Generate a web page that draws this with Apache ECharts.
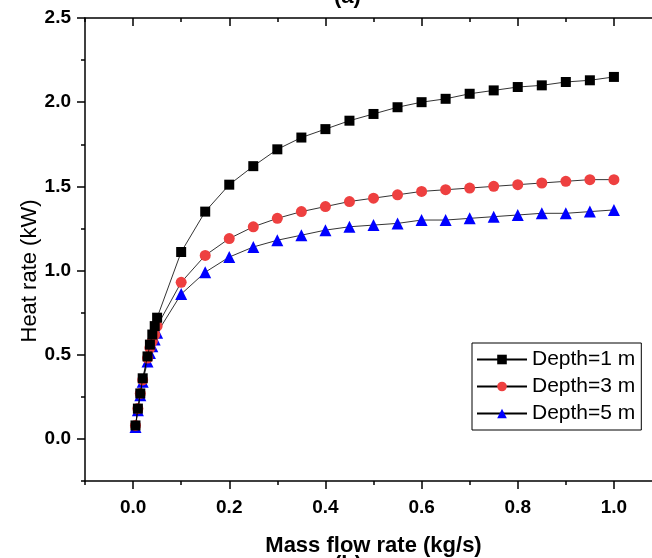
<!DOCTYPE html>
<html>
<head>
<meta charset="utf-8">
<script src="https://cdn.jsdelivr.net/npm/echarts@6/dist/echarts.min.js"></script>
<style>
html,body{margin:0;padding:0;background:#fff;}
#chart{width:652px;height:558px;}
</style>
</head>
<body>
<div id="chart"></div>
<script>
// ---- data ----
var massFlow = [0.005, 0.01, 0.015, 0.02, 0.03, 0.035, 0.04, 0.045, 0.05,
  0.1, 0.15, 0.2, 0.25, 0.3, 0.35, 0.4, 0.45, 0.5, 0.55, 0.6, 0.65, 0.7, 0.75, 0.8, 0.85, 0.9, 0.95, 1.0];
var depth1 = [0.08, 0.18, 0.27, 0.36, 0.49, 0.56, 0.62, 0.67, 0.72,
  1.11, 1.35, 1.51, 1.62, 1.72, 1.79, 1.84, 1.89, 1.93, 1.97, 2.00, 2.02, 2.05, 2.07, 2.09, 2.10, 2.12, 2.13, 2.15];
var depth3 = [0.08, 0.18, 0.27, 0.35, 0.48, 0.54, 0.58, 0.62, 0.67,
  0.93, 1.09, 1.19, 1.26, 1.31, 1.35, 1.38, 1.41, 1.43, 1.45, 1.47, 1.48, 1.49, 1.50, 1.51, 1.52, 1.53, 1.54, 1.54];
var depth5 = [0.07, 0.17, 0.26, 0.34, 0.46, 0.51, 0.55, 0.59, 0.63,
  0.86, 0.99, 1.08, 1.14, 1.18, 1.21, 1.24, 1.26, 1.27, 1.28, 1.30, 1.30, 1.31, 1.32, 1.33, 1.34, 1.34, 1.35, 1.36];
var seriesNames = ['Depth=1 m', 'Depth=3 m', 'Depth=5 m'];
var xTicks = [0.0, 0.2, 0.4, 0.6, 0.8, 1.0];
var yTicks = [0.0, 0.5, 1.0, 1.5, 2.0, 2.5];
var xName = 'Mass flow rate (kg/s)';
var yName = 'Heat rate (kW)';
var topLabel = '(a)';
var bottomLabel = '(b)';

var FONT = 'Liberation Sans, Arial, sans-serif';
var AX = {color: '#000', width: 1.5};

function pairs(ys) { return massFlow.map(function (x, i) { return [x, ys[i]]; }); }

function xAx(pos, major, inside, extra) {
  var a = {
    type: 'value', position: pos, min: -0.1, max: 1.1, gridIndex: 0,
    axisLine: {show: major, onZero: false, lineStyle: AX},
    axisTick: {show: true, inside: inside, length: major ? 8 : 4, lineStyle: AX},
    axisLabel: {show: false},
    splitLine: {show: false}
  };
  if (major) { a.axisTick.customValues = xTicks; } else { a.interval = 0.1; }
  return Object.assign(a, extra || {});
}
function yAx(pos, major, inside, extra) {
  var a = {
    type: 'value', position: pos, min: -0.25, max: 2.5, gridIndex: 0,
    axisLine: {show: major, onZero: false, lineStyle: AX},
    axisTick: {show: true, inside: inside, length: major ? 8 : 4, lineStyle: AX},
    axisLabel: {show: false},
    splitLine: {show: false}
  };
  if (major) { a.axisTick.customValues = yTicks; } else { a.interval = 0.25; }
  return Object.assign(a, extra || {});
}

var xMain = xAx('bottom', true, false, {
  name: xName, nameLocation: 'middle', nameGap: 54,
  nameTextStyle: {fontFamily: FONT, fontWeight: 'bold', fontSize: 22, color: '#000'}
});
xMain.axisLabel = {show: true, customValues: xTicks, margin: 17, fontFamily: FONT, fontWeight: 'bold', fontSize: 19, color: '#000',
  formatter: function (v) { return v.toFixed(1); }};

var yMain = yAx('left', true, false);
yMain.axisLabel = {show: true, customValues: yTicks, margin: 14, fontFamily: FONT, fontWeight: 'bold', fontSize: 19, color: '#000',
  formatter: function (v) { return v.toFixed(1); }};

var colors = ['#000000', '#EE4040', '#0000FF'];
var symbols = ['rect', 'circle', 'triangle'];
var sizes = [10, 11, 12];
var dataSets = [depth1, depth3, depth5];

var series = dataSets.map(function (d, i) {
  return {
    name: seriesNames[i], type: 'line', xAxisIndex: 0, yAxisIndex: 0,
    data: pairs(d), symbol: symbols[i], symbolSize: sizes[i],
    itemStyle: {color: colors[i]},
    lineStyle: {color: '#000', width: 0.8},
    z: 10 - i,
    animation: false
  };
});

var chart = echarts.init(document.getElementById('chart'), null, {renderer: 'canvas'});
chart.setOption({
  backgroundColor: '#fff',
  animation: false,
  grid: {left: 85, top: 18, right: -10, bottom: 77, containLabel: false, outerBoundsMode: 'none'},
  xAxis: [xMain, xAx('bottom', false, false), xAx('top', true, true), xAx('top', false, true)],
  yAxis: [yMain, yAx('left', false, false), yAx('right', true, true), yAx('right', false, true)],
  legend: {
    orient: 'vertical', left: 472, top: 343,
    data: seriesNames,
    itemWidth: 50, itemHeight: 12, itemGap: 6,
    padding: [6, 6, 6, 4],
    borderColor: '#000', borderWidth: 1,
    textStyle: {fontFamily: FONT, fontSize: 21, color: '#000', lineHeight: 21}
  },
  graphic: [
    {type: 'text', left: 334, top: -14, style: {text: topLabel, font: 'bold 22px ' + FONT, fill: '#000'}},
    {type: 'text', left: 334, top: 554, style: {text: bottomLabel, font: 'bold 22px ' + FONT, fill: '#000'}},
    {type: 'text', x: 30, y: 271, rotation: Math.PI / 2,
      style: {text: yName, font: '22px ' + FONT, fill: '#000', align: 'center', verticalAlign: 'middle'}}
  ],
  series: series
});
</script>
</body>
</html>
